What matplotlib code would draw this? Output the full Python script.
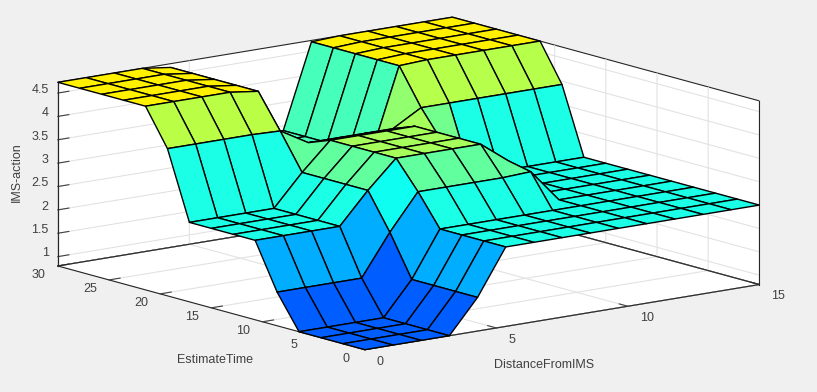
import numpy as np
import matplotlib
matplotlib.use("Agg")
import matplotlib.pyplot as plt
from matplotlib.colors import Normalize, LinearSegmentedColormap

# axis values
distance = np.linspace(0, 15, 15)
estimate = np.linspace(0, 30, 15)

# one row per EstimateTime step
row_low = [0.8, 0.8, 0.8, 0.8, 1.52, 2.5, 2.5, 2.5, 2.5, 2.5, 2.5, 2.5, 2.5, 2.5, 2.5]
row_4 = [1.52, 1.52, 1.52, 1.52, 2.4, 3.17, 3.17, 3.17, 3.17, 3.2, 2.5, 2.5, 2.5, 2.5, 2.5]
row_mid = [2.5, 2.5, 2.5, 2.5, 3.17, 3.76, 3.76, 3.76, 3.76, 3.3, 2.5, 2.5, 2.5, 2.5, 2.5]
row_9 = [3.95, 3.95, 3.95, 3.95, 3.93, 3.58, 3.58, 3.58, 3.58, 3.93, 3.93, 3.93, 3.93, 3.93, 3.93]
row_high = [4.73, 4.73, 4.73, 4.73, 4.65, 2.9, 2.9, 2.9, 2.9, 4.7, 4.73, 4.73, 4.73, 4.73, 4.73]
action = [row_low, row_low, row_low, row_low, row_4,
          row_mid, row_mid, row_mid, row_mid, row_9,
          row_high, row_high, row_high, row_high, row_high]

x_ticks = [0, 5, 10, 15]
y_ticks = [0, 5, 10, 15, 20, 25, 30]
z_ticks = [1, 1.5, 2, 2.5, 3, 3.5, 4, 4.5]
z_labels = ["1", "1.5", "2", "2.5", "3", "3.5", "4", "4.5"]

BG = "#f0f0f0"
TEXT = "#404040"
GRID = "#e2e2e2"
BOX = "#262626"

plt.rcParams["font.family"] = ["Liberation Sans", "DejaVu Sans"]
plt.rcParams["font.size"] = 9

# matlab flavour of jet
matlab_jet = LinearSegmentedColormap("matlab_jet", {
    "red": [(0, 0, 0), (0.375, 0, 0), (0.625, 1, 1), (0.875, 1, 1), (1, 0.5, 0.5)],
    "green": [(0, 0, 0), (0.125, 0, 0), (0.375, 1, 1), (0.625, 1, 1), (0.875, 0, 0), (1, 0, 0)],
    "blue": [(0, 0.5, 0.5), (0.125, 1, 1), (0.375, 1, 1), (0.625, 0, 0), (1, 0, 0)],
}, N=256)

W, H = 817, 392
fig = plt.figure(figsize=(W / 100, H / 100), dpi=100, facecolor=BG)

# square axes centred on the box centre, wide enough not to clip the surface
S = 820
cx, cy = 397.5, 197.5
ax = fig.add_axes([(cx - S / 2) / W, (cy - S / 2) / H, S / W, S / H], projection="3d")
ax.patch.set_visible(False)
ax.set_proj_type("ortho")
ax.view_init(elev=12.25, azim=-127.89)
ax.set_box_aspect((500, 500, 188), zoom=0.866)

X, Y = np.meshgrid(distance, estimate)
Z = np.array(action)
colors = matlab_jet(Normalize(-1.22, 8.07)(Z))
ax.plot_surface(X, Y, Z, facecolors=colors, rstride=1, cstride=1, shade=False,
                edgecolor="black", linewidth=1.0, antialiased=True)

ax.set_xlim(0, 15, view_margin=0)
ax.set_ylim(0, 30, view_margin=0)
ax.set_zlim(0.8, 4.73, view_margin=0)
ax.set_xticks(x_ticks)
ax.set_yticks(y_ticks)
ax.set_zticks(z_ticks)
ax.set_zticklabels(z_labels)
for lab in ax.get_zticklabels():
    lab.set_ha("right")
    lab.set_va("baseline")
for lab in ax.get_xticklabels():
    lab.set_ha("left")
    lab.set_va("center_baseline")
for lab in ax.get_yticklabels():
    lab.set_va("baseline")

for axis in (ax.xaxis, ax.yaxis, ax.zaxis):
    axis.set_pane_color((1, 1, 1, 1))
    axis.pane.set_edgecolor(BOX)
    axis.pane.set_linewidth(0.8)
    axis.line.set_color(BOX)
    axis.line.set_linewidth(0.8)
    axis._axinfo["grid"].update(color=GRID, linewidth=0.8)
    axis._axinfo["tick"].update(color=BOX, linewidth={True: 0.8, False: 0.8},
                                inward_factor=0.0, outward_factor=0.35)
ax.tick_params(colors=TEXT, pad=0)
ax.tick_params(axis="x", pad=4)
ax.tick_params(axis="y", pad=7)
ax.tick_params(axis="z", pad=-4)

# gridlines at the limits paint over the box, redraw those edges
zmin, zmax = ax.get_zlim()
ax.plot([0, 15], [30, 30], [zmin, zmin], color=BOX, lw=0.8)
ax.plot([15, 15], [0, 30], [zmin, zmin], color=BOX, lw=0.8)
ax.plot([0, 0], [30, 30], [zmin, zmax], color=BOX, lw=0.8)
ax.plot([15, 15], [0, 0], [zmin, zmax], color=BOX, lw=0.8)

# axis titles sit flat in the reference, mplot3d would rotate them
fig.text(215 / W, 1 - 360 / H, "EstimateTime", color=TEXT, ha="center", va="center")
fig.text(544 / W, 1 - 365 / H, "DistanceFromIMS", color=TEXT, ha="center", va="center")
fig.text(17 / W, 1 - 172 / H, "IMS-action", color=TEXT, rotation=90, ha="center", va="center")

fig.savefig("out.png", dpi=100, facecolor=BG)
